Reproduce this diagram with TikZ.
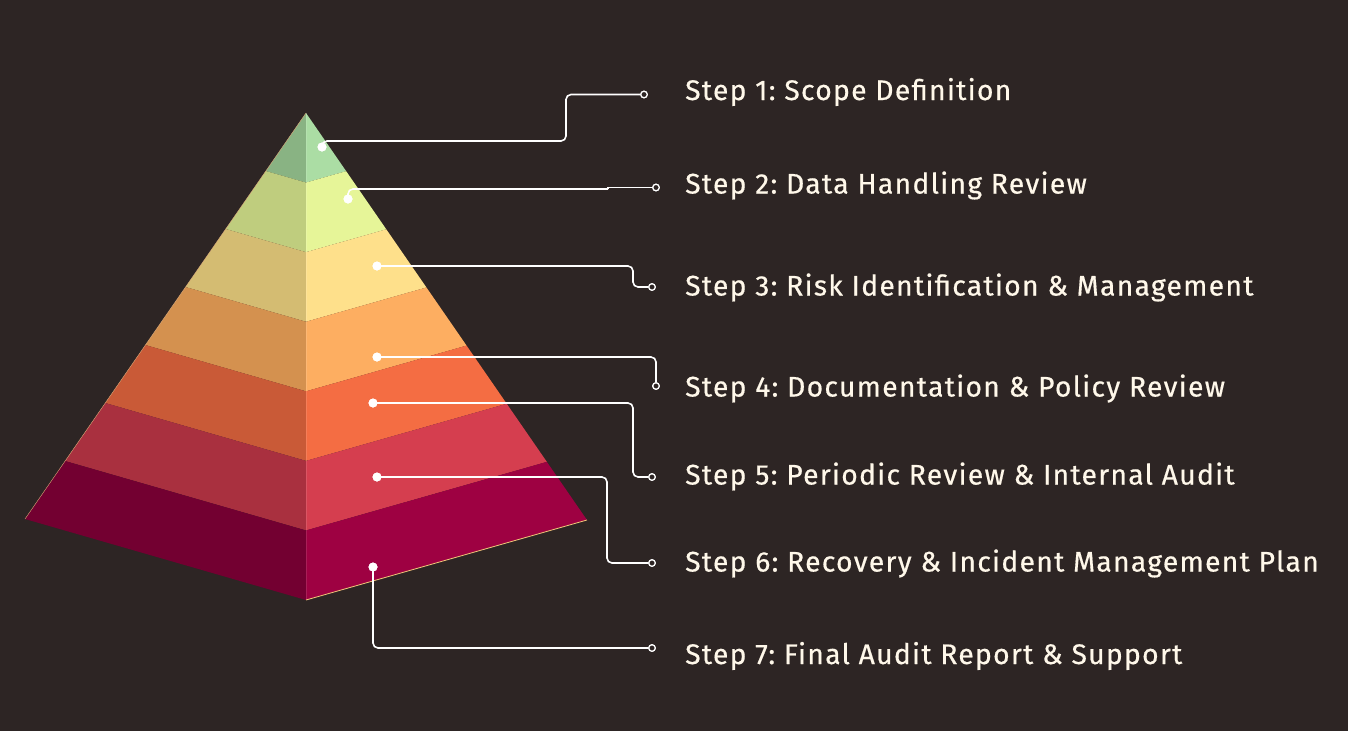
\documentclass[tikz,border=0pt]{standalone}
\usepackage{fontspec}
\newfontfamily\lblfont{Fira Sans}[FakeBold=0.5,LetterSpace=4.5]
\usetikzlibrary{calc}
\definecolor{bg}{RGB}{45,37,36}
\definecolor{txt}{HTML}{FFF8EA}
\definecolor{edgeL}{HTML}{D9A878}
\definecolor{edgeR}{RGB}{240,200,120}
\definecolor{rA}{HTML}{ABDDA4}\definecolor{lA}{HTML}{89B383}
\definecolor{rB}{HTML}{E6F598}\definecolor{lB}{HTML}{BFCD7E}
\definecolor{rC}{HTML}{FEE08B}\definecolor{lC}{HTML}{D4BC72}
\definecolor{rD}{HTML}{FDAE61}\definecolor{lD}{HTML}{D4914F}
\definecolor{rE}{HTML}{F46D43}\definecolor{lE}{HTML}{C95A37}
\definecolor{rF}{HTML}{D53E4F}\definecolor{lF}{HTML}{A9303F}
\definecolor{rG}{HTML}{9E0142}\definecolor{lG}{HTML}{730031}
\tikzset{
  dot/.style={circle,fill=white,inner sep=0pt,minimum size=9pt},
  endpt/.style={circle,draw=white,fill=bg,line width=1.2pt,inner sep=0pt,minimum size=6.5pt},
  conn/.style={draw=white,line width=1.6pt,rounded corners=5pt},
  lbl/.style={anchor=base west,text=txt,font=\lblfont\fontsize{28.3}{30}\selectfont\frenchspacing,inner sep=0pt},
}
\begin{document}
\begin{tikzpicture}[x=1pt,y=-1pt]
\fill[bg] (0,0) rectangle (1348,731);
\useasboundingbox (0,0) rectangle (1348,731);
\coordinate (A) at (306,113);
\coordinate (BL) at (25,519);
\coordinate (BC) at (306,600);
\coordinate (BR) at (587,520);
\foreach \k/\cl/\cr in {1/lA/rA,2/lB/rB,3/lC/rC,4/lD/rD,5/lE/rE,6/lF/rF,7/lG/rG}{
  \pgfmathsetmacro{\ta}{(\k-1)/7}
  \pgfmathsetmacro{\tb}{\k/7}
  \fill[\cl] ($(A)!\ta!(BL)$) -- ($(A)!\ta!(BC)$) -- ($(A)!\tb!(BC)$) -- ($(A)!\tb!(BL)$) -- cycle;
  \fill[\cr] ($(A)!\ta!(BR)$) -- ($(A)!\ta!(BC)$) -- ($(A)!\tb!(BC)$) -- ($(A)!\tb!(BR)$) -- cycle;
}
\draw[white,opacity=0.12,line width=0.8pt] (A) -- (BC);
\draw[edgeL] (A) -- (BL);
\draw[edgeR,line width=0.8pt] (BC) -- (BR);
% labels
\node[lbl] (l1) at (685,100) {Step 1: Scope Definition};
\node[lbl] (l2) at (685,193.5) {Step 2: Data Handling Review};
\node[lbl] (l3) at (685,295.5) {Step 3: Risk Identification \& Management};
\node[lbl] (l4) at (685,396.5) {Step 4: Documentation \& Policy Review};
\node[lbl] (l5) at (685,484.5) {Step 5: Periodic Review \& Internal Audit};
\node[lbl] (l6) at (685,571.5) {Step 6: Recovery \& Incident Management Plan};
\node[lbl] (l7) at (685,664) {Step 7: Final Audit Report \& Support};
% dots
\node[dot] (d1) at (322,147) {};
\node[dot] (d2) at (348,199) {};
\node[dot] (d3) at (377,266) {};
\node[dot] (d4) at (377,357) {};
\node[dot] (d5) at (373,403) {};
\node[dot] (d6) at (377,477) {};
\node[dot] (d7) at (373,567) {};
% end points
\node[endpt] (e1) at (644,94.5) {};
\node[endpt] (e2) at (656,187.5) {};
\node[endpt] (e3) at (652,287) {};
\node[endpt] (e4) at (656,386) {};
\node[endpt] (e5) at (652,477) {};
\node[endpt] (e6) at (652,563) {};
\node[endpt] (e7) at (652,648) {};
% connectors
\draw[conn] (d1.center) |- (566,141) |- (e1);
\draw[conn] (d2.center) |- (608,189);
\draw[white,line width=1.6pt] (608,189) -- (608,187.5) -- (e2);
\draw[conn] (d3.center) -- (633,266) |- (e3);
\draw[conn] (d4.center) -| (e4);
\draw[conn] (d5.center) -- (633,403) |- (e5);
\draw[conn] (d6.center) -- (607,477) |- (e6);
\draw[conn] (d7.center) |- (e7);
\foreach \n in {1,...,7}{\node[dot] at (d\n) {};\node[endpt] at (e\n) {};}
\end{tikzpicture}
\end{document}
